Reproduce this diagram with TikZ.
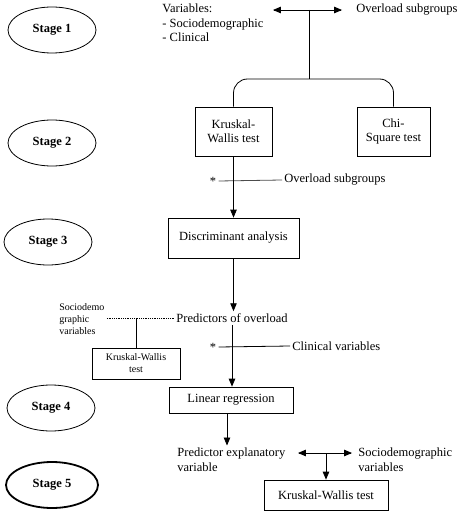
\documentclass[tikz,border=0pt]{standalone}
\usepackage{fontspec}
\setmainfont{Liberation Serif}
\usetikzlibrary{arrows,calc,shapes.geometric}
\begin{document}
\begin{tikzpicture}[>=triangle 45,x=1pt,y=-1pt,line width=0.8pt,
		stage/.style={ellipse,draw,minimum width=88pt,minimum height=46pt,inner sep=0pt,font=\fontsize{12.5}{14}\selectfont\bfseries},
		txt/.style={inner sep=2pt,align=left,font=\fontsize{12.5}{14.5}\selectfont},
		box/.style={draw,inner sep=2pt,align=center,font=\fontsize{12.5}{13.5}\selectfont},
		small/.style={font=\fontsize{10}{12}\selectfont}]
								\useasboundingbox (0,0) rectangle (463,516);
								\node[stage] (st1) at (52,30) {Stage 1};
								\node[stage] (st2) at (52,143) {Stage 2};
								\node[stage] (st3) at (48,242) {Stage 3};
								\node[stage] (st4) at (51,408) {Stage 4};
								\node[stage,line width=1.8pt,minimum width=92pt] (st5) at (52,485) {Stage 5};
								
								\node[txt,anchor=west] (vars) at (160,23) {Variables:\\- Sociodemographic\\- Clinical};
								\node[txt,anchor=west] (ovl1) at (354,10) {Overload subgroups};
								\coordinate (v1) at (273,10); \coordinate (v2) at (342,10); \coordinate (split) at (309,79);
								\draw[<->] (v1) -- (v2); \draw (split |- v1) -- (split);
								\node[box,minimum width=77pt,minimum height=49pt] (kw) at (233.5,131.5) {Kruskal-\\Wallis test};
								\node[box,minimum width=73pt,minimum height=49pt] (chi) at (393.5,131.5) {Chi-\\Square test};
								\draw[rounded corners=14pt] (kw.north) |- (split) -| (chi.north);
								
								\node[txt] (star1) at (213,181) {*};
								\node[txt,anchor=west] (ovl2) at (282,180) {Overload subgroups};
								\draw[black!70] (star1.east) -- (ovl2.west);
								\node[box,minimum width=131pt,minimum height=40pt] (disc) at (233.5,238) {Discriminant analysis};
								\draw[->] (kw.south) -- (disc.north);
								
								\node[txt] (pred) at (232,318) {Predictors of overload};
								\draw[->] (disc.south) -- (disc.south |- pred.north);
								\node[txt,small,anchor=west] (socio) at (57,319) {Sociodemo\\graphic\\variables};
								\node[box,small,minimum width=88pt,minimum height=31pt] (kws) at (136,363.5) {Kruskal-Wallis\\test};
								\draw[densely dotted] (socio.east |- pred) -- (pred.west); \draw (kws.north |- pred) -- (kws.north);
								
								\node[txt] (star2) at (213,347) {*};
								\node[txt,anchor=west] (clin) at (290,346) {Clinical variables};
								\draw (star2.east) -- (clin.west);
								\node[box,minimum width=124pt,minimum height=26pt] (lr) at (231,400) {Linear regression};
								\draw[->] (pred.south) -- (pred.south |- lr.north);
								
								\node[txt,anchor=west] (pexp) at (175,459.5) {Predictor explanatory\\variable};
								\draw[->] ([xshift=-4pt]lr.south) -- ([xshift=-4pt]lr.south |- pexp.north);
								\node[txt,anchor=west] (socio2) at (356,459.5) {Sociodemographic\\variables};
								\coordinate (p1) at (298,453); \coordinate (p2) at (352,453);
								\draw[<->] (p1) -- (p2);
								\node[box,minimum width=124pt,minimum height=30pt] (kw5) at (326,495) {Kruskal-Wallis test};
								\draw[->] (kw5.north |- p1) -- (kw5.north);
\end{tikzpicture}
\end{document}
